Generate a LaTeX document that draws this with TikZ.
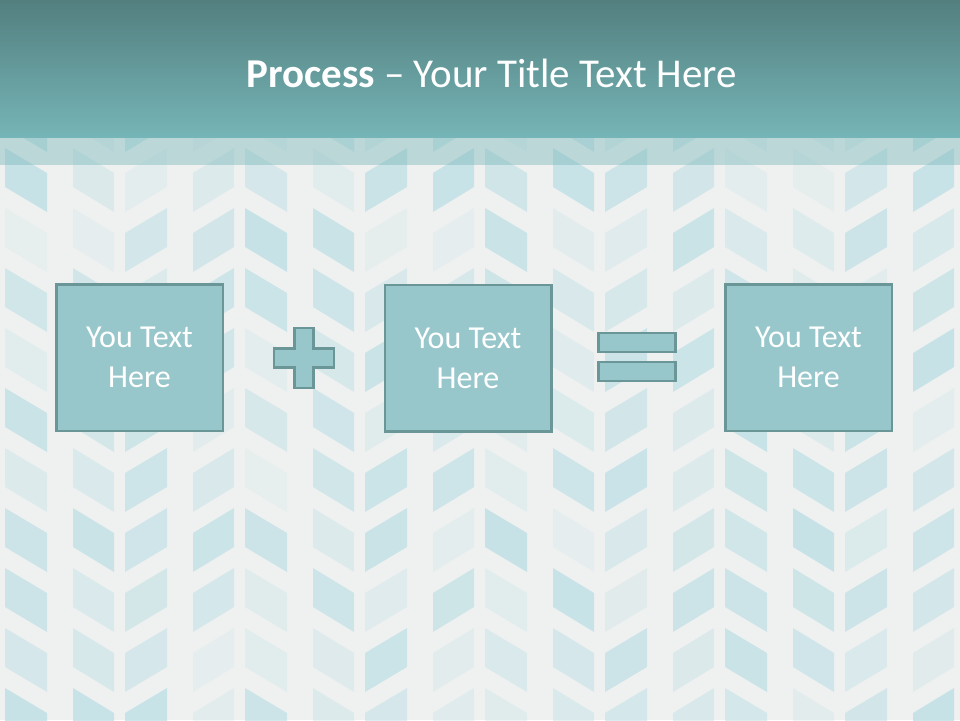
\documentclass[tikz,border=0pt]{standalone}
\usepackage{fontspec}
\setmainfont{Carlito}
\definecolor{bgc}{HTML}{EFF1F0}
\definecolor{chev}{HTML}{BDDFE5}
\definecolor{hdtop}{HTML}{537F7F}
\definecolor{hdbot}{HTML}{76B5B7}
\definecolor{boxfill}{HTML}{98C7CB}
\definecolor{boxline}{HTML}{6B9698}
\begin{document}
\begin{tikzpicture}[x=1pt,y=-1pt,
  textbox/.style={draw=boxline, line width=2.5pt, fill=boxfill,
    minimum width=166.5pt, minimum height=146.5pt, text=white,
    font=\fontsize{32}{40}\selectfont, align=center, inner sep=0pt},
  symbol/.style={draw=boxline, line width=2.5pt, fill=boxfill},
  chevshape/.style={fill=chev}]
\useasboundingbox (0,0) rectangle (960,720);
\fill[bgc] (0,0) rectangle (960,720);
% chevron pattern
\pgfmathsetseed{12}
\foreach \k in {0,...,8} {
  \pgfmathsetmacro{\S}{120*\k}
  \foreach \yy in {28,88,...,688} {
    \pgfmathsetmacro{\opa}{0.15+0.65*rnd}
    \pgfmathsetmacro{\opb}{0.15+0.65*rnd}
    \ifodd\k
      \fill[chevshape, opacity=\opa] (\S-47,\yy) -- (\S-6,\yy+25) -- (\S-6,\yy+64) -- (\S-47,\yy+39) -- cycle;
      \fill[chevshape, opacity=\opb] (\S+5,\yy+25) -- (\S+47,\yy) -- (\S+47,\yy+39) -- (\S+5,\yy+64) -- cycle;
    \else
      \fill[chevshape, opacity=\opa] (\S-47,\yy+25) -- (\S-6,\yy) -- (\S-6,\yy+39) -- (\S-47,\yy+64) -- cycle;
      \fill[chevshape, opacity=\opb] (\S+5,\yy) -- (\S+47,\yy+25) -- (\S+47,\yy+64) -- (\S+5,\yy+39) -- cycle;
    \fi
  }
}
% header
\shade[top color=hdtop, bottom color=hdbot] (0,0) rectangle (960,137);
\fill[hdbot, opacity=0.42] (0,137) rectangle (960,165);
\node[anchor=base, text=white, font=\fontsize{41}{48}\selectfont, inner sep=0pt] (title) at (491.5,87) {\textbf{Process} – Your Title Text Here};
% boxes
\node[textbox] (b1) at (139.5,357.5) {You Text\\Here};
\node[textbox] (b2) at (468,358) {You Text\\Here};
\node[textbox] (b3) at (808.5,357.5) {You Text\\Here};
% plus
\draw[symbol] (294.5,328) -- (313.5,328) -- (313.5,348.5) -- (334,348.5) -- (334,367.5) -- (313.5,367.5) -- (313.5,388) -- (294.5,388) -- (294.5,367.5) -- (274,367.5) -- (274,348.5) -- (294.5,348.5) -- cycle;
% equals
\draw[symbol] (598.5,333) rectangle (675.5,352);
\draw[symbol] (598.5,362) rectangle (675.5,381);
\end{tikzpicture}
\end{document}
